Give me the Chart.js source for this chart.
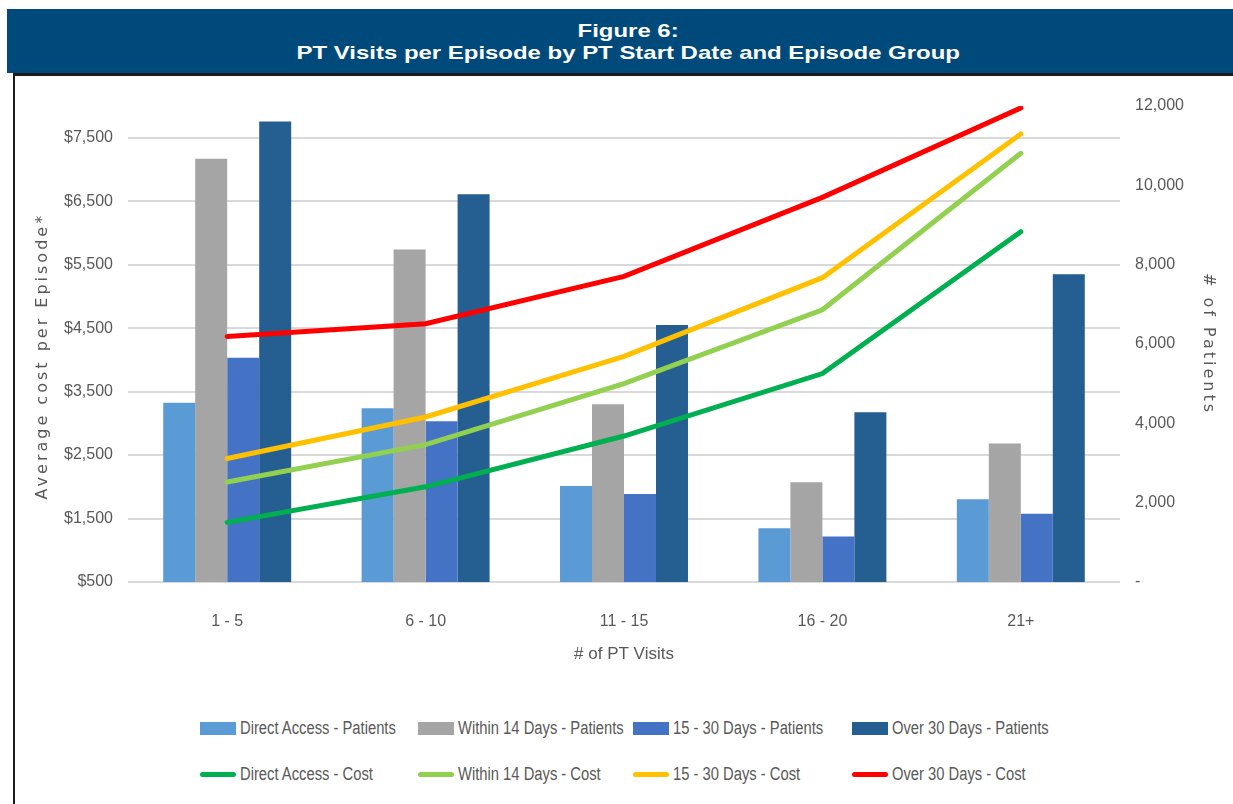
<!DOCTYPE html>
<html lang="en">
<head>
  <meta charset="UTF-8">
  <title>Figure 6: PT Visits per Episode</title>
  <script src="https://cdn.jsdelivr.net/npm/chart.js"></script>
  <style>
    body {
      margin: 0;
      width: 1233px;
      height: 804px;
      overflow: hidden;
      background: #fff;
      position: relative;
    }

    .header {
      position: absolute;
      left: 7px;
      top: 9px;
      width: 1210px;
      height: 53px;
      padding: 11px 0 0 16px;
      background: #00497b;
      color: #fff;
      font: bold 19px 'Liberation Sans', Arial, sans-serif;
      line-height: 22px;
      text-align: center;
    }

    .header span {
      display: inline-block;
      transform: scaleX(1.26);
    }

    .frame {
      position: absolute;
      left: 13px;
      top: 73px;
      right: 0;
      bottom: 0;
      border-top: 3px solid #1c1c1c;
      border-left: 2px solid #1c1c1c;
    }

    .chart-box {
      position: absolute;
      left: 15px;
      top: 76px;
      width: 1218px;
      height: 620px;
    }

    #legend {
      position: absolute;
      left: 200px;
      top: 716px;
      display: grid;
      grid-template-columns: 218px 215px 219px auto;
      grid-auto-rows: 24px;
      row-gap: 22px;
      font: 18px 'Liberation Sans', Arial, sans-serif;
      color: #595959;
    }

    #legend .item {
      display: flex;
      align-items: center;
      white-space: nowrap;
    }

    #legend .swatch {
      width: 36px;
      height: 13px;
      margin-right: 4px;
      flex: none;
    }

    #legend .swatch.line {
      height: 5px;
      border-radius: 3px;
    }

    #legend .text {
      display: inline-block;
      transform: scaleX(0.82);
      transform-origin: left center;
    }
  </style>
</head>
<body>

  <div class="header"><span>Figure 6:</span><br><span>PT Visits per Episode by PT Start Date and Episode Group</span></div>
  <div class="frame"></div>
  <div class="chart-box"><canvas id="chart"></canvas></div>
  <div id="legend"></div>

  <script>
    const categories = ['1 - 5', '6 - 10', '11 - 15', '16 - 20', '21+'];

    // # of patients (right axis)
    const directAccessPatients = [4520, 4380, 2420, 1355, 2085];
    const within14Patients = [10670, 8380, 4480, 2515, 3490];
    const days15to30Patients = [5655, 4050, 2220, 1150, 1720];
    const over30Patients = [11610, 9775, 6480, 4280, 7760];

    // average cost per episode (left axis)
    const directAccessCost = [1440, 2000, 2800, 3785, 6020];
    const within14Cost = [2075, 2665, 3625, 4790, 7255];
    const days15to30Cost = [2445, 3100, 4055, 5295, 7560];
    const over30Cost = [4370, 4570, 5315, 6560, 7970];

    const costTicks = [500, 1500, 2500, 3500, 4500, 5500, 6500, 7500];
    const patientTicks = [0, 2000, 4000, 6000, 8000, 10000, 12000];

    const tickFont = { family: "'Liberation Sans', Arial, sans-serif", size: 16 };
    const axisTitleFont = { family: "'DejaVu Sans', Verdana, sans-serif", size: 16 };
    const grey = '#595959';

    function barSet(label, data, color) {
      return {
        type: 'bar',
        label: label,
        data: data,
        backgroundColor: color,
        yAxisID: 'yPatients',
        order: 2,
        categoryPercentage: 0.645,
        barPercentage: 1
      };
    }

    function lineSet(label, data, color) {
      return {
        type: 'line',
        label: label,
        data: data,
        borderColor: color,
        backgroundColor: color,
        borderWidth: 5,
        borderCapStyle: 'round',
        pointRadius: 0,
        tension: 0,
        fill: false,
        yAxisID: 'yCost',
        order: 1
      };
    }

    // axis titles in the original are spaced out
    const spacedTitles = {
      id: 'spacedTitles',
      afterUpdate(chart) {
        ['yCost', 'yPatients'].forEach(id => {
          const s = chart.scales[id];
          if (!s || s._spaced) return;
          const orig = s.drawTitle.bind(s);
          s.drawTitle = function () {
            this.ctx.save();
            this.ctx.letterSpacing = '3px';
            orig();
            this.ctx.restore();
          };
          s._spaced = true;
        });
      }
    };

    const chart = new Chart(document.getElementById('chart'), {
      data: {
        labels: categories,
        datasets: [
          barSet('Direct Access - Patients', directAccessPatients, '#5b9bd5'),
          barSet('Within 14 Days - Patients', within14Patients, '#a5a5a5'),
          barSet('15 - 30 Days - Patients', days15to30Patients, '#4472c4'),
          barSet('Over 30 Days - Patients', over30Patients, '#255e91'),
          lineSet('Direct Access - Cost', directAccessCost, '#00b050'),
          lineSet('Within 14 Days - Cost', within14Cost, '#92d050'),
          lineSet('15 - 30 Days - Cost', days15to30Cost, '#ffc000'),
          lineSet('Over 30 Days - Cost', over30Cost, '#ff0000')
        ]
      },
      options: {
        responsive: true,
        maintainAspectRatio: false,
        animation: false,
        layout: { padding: { top: 30, left: 0, right: 0, bottom: 0 } },
        plugins: {
          legend: { display: false },
          tooltip: { enabled: false }
        },
        scales: {
          x: {
            grid: { display: false },
            border: { display: false },
            ticks: { color: grey, font: tickFont, padding: 22 },
            title: {
              display: true,
              text: '# of PT Visits',
              color: grey,
              font: { family: tickFont.family, size: 17 },
              padding: { top: 0, bottom: 31 }
            },
            afterFit: s => { s.height = 114; }
          },
          yCost: {
            position: 'left',
            min: 500,
            max: 8000,
            afterBuildTicks: axis => { axis.ticks = costTicks.map(v => ({ value: v })); },
            grid: { color: '#d9d9d9', lineWidth: 2, drawTicks: false },
            border: { display: false },
            ticks: {
              color: grey,
              font: tickFont,
              padding: 15,
              callback: v => '$' + v.toLocaleString('en-US')
            },
            title: {
              display: true,
              text: 'Average cost per Episode*   ',
              color: grey,
              font: axisTitleFont,
              padding: { top: 18, bottom: 0 }
            },
            afterFit: s => { s.width = 113; }
          },
          yPatients: {
            position: 'right',
            min: 0,
            max: 12000,
            afterBuildTicks: axis => { axis.ticks = patientTicks.map(v => ({ value: v })); },
            grid: { display: false, drawTicks: false },
            border: { display: false },
            ticks: {
              color: grey,
              font: tickFont,
              padding: 15,
              callback: v => v === 0 ? '-' : v.toLocaleString('en-US')
            },
            title: {
              display: true,
              text: '# of Patients',
              color: grey,
              font: axisTitleFont,
              padding: { top: 15, bottom: 0 }
            },
            afterFit: s => { s.width = 113; }
          }
        }
      },
      plugins: [spacedTitles]
    });
    chart.draw();

    // legend laid out in two rows like the original
    const legendEl = document.getElementById('legend');
    chart.data.datasets.forEach(ds => {
      const item = document.createElement('div');
      item.className = 'item';
      const sw = document.createElement('span');
      sw.className = 'swatch' + (ds.type === 'line' ? ' line' : '');
      sw.style.background = ds.type === 'line' ? ds.borderColor : ds.backgroundColor;
      const txt = document.createElement('span');
      txt.className = 'text';
      txt.textContent = ds.label;
      item.appendChild(sw);
      item.appendChild(txt);
      legendEl.appendChild(item);
    });
  </script>

</body>
</html>
